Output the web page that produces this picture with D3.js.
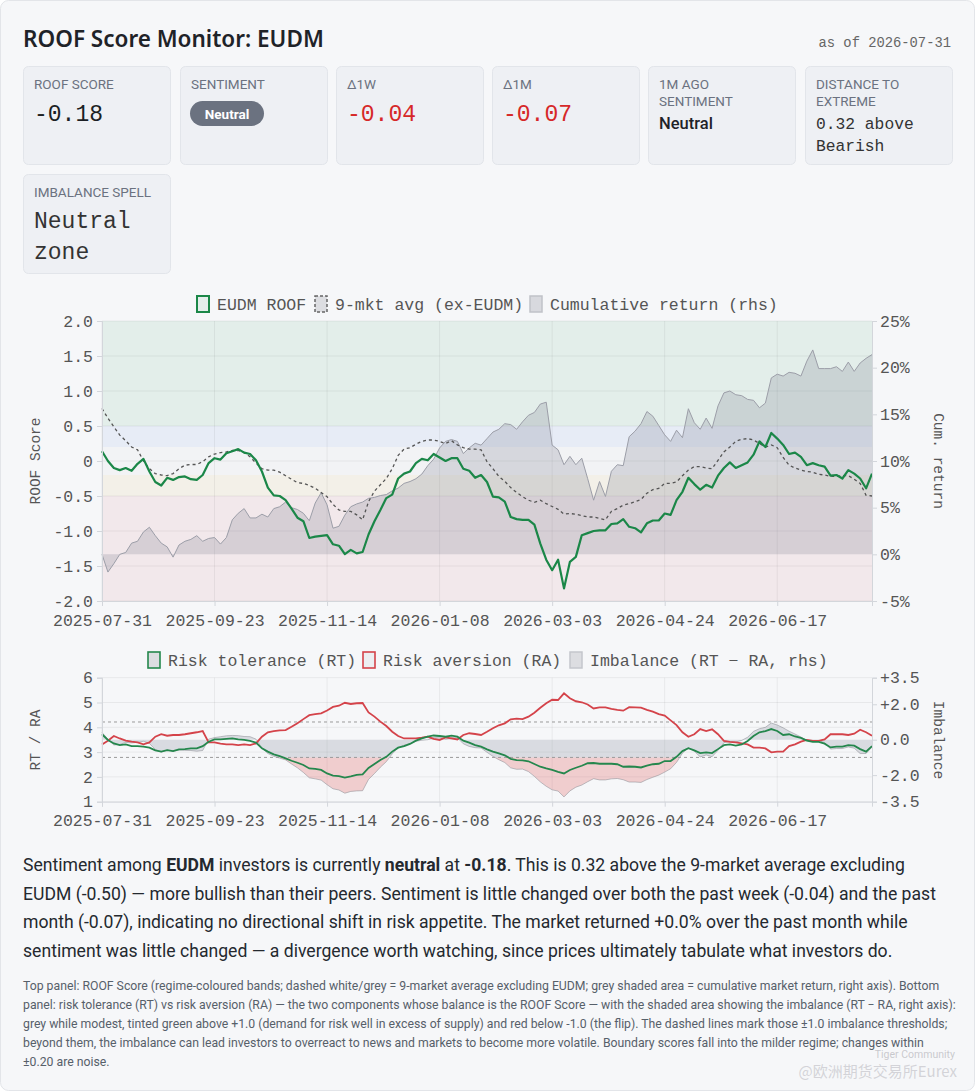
<!DOCTYPE html>
<html>
<head>
<meta charset="utf-8">
<script src="https://cdn.jsdelivr.net/npm/d3@7"></script>
<style>
  body { margin: 0; background: #ffffff; }
</style>
</head>
<body>
<div id="page"></div>
<script>
// ---- data (every second trading day, 2025-07-31 .. 2026-07-31) ----
const firstDate = "2025-07-31";
const asOfDate = "2026-07-31";
const holidays = ["2026-01-01"];
const tickLabels = ["2025-07-31", "2025-09-23", "2025-11-14", "2026-01-08", "2026-03-03", "2026-04-24", "2026-06-17"];

const roof = [
  0.14, 0.00, -0.10, -0.13, -0.10, -0.14, -0.04, 0.03, -0.15, -0.30,
  -0.35, -0.24, -0.27, -0.23, -0.22, -0.26, -0.27, -0.20, -0.03, 0.04,
  0.02, 0.11, 0.14, 0.17, 0.12, 0.10, 0.01, -0.15, -0.38, -0.49,
  -0.50, -0.56, -0.68, -0.81, -0.86, -1.10, -1.08, -1.07, -1.06, -1.19,
  -1.21, -1.33, -1.27, -1.32, -1.30, -1.05, -0.86, -0.70, -0.53, -0.48,
  -0.25, -0.18, -0.15, -0.03, 0.03, 0.01, 0.10, 0.05, 0.00, 0.04,
  0.04, -0.11, -0.14, -0.24, -0.20, -0.30, -0.51, -0.52, -0.58, -0.80,
  -0.83, -0.84, -0.84, -0.91, -1.18, -1.41, -1.56, -1.41, -1.82, -1.44,
  -1.37, -1.06, -1.03, -1.00, -0.99, -0.99, -0.90, -0.89, -0.83, -0.94,
  -0.96, -1.02, -0.89, -0.85, -0.85, -0.75, -0.77, -0.56, -0.44, -0.24,
  -0.33, -0.41, -0.34, -0.38, -0.21, -0.10, -0.02, -0.10, -0.06, -0.02,
  0.09, 0.28, 0.20, 0.40, 0.32, 0.23, 0.10, 0.12, 0.06, -0.06,
  -0.03, -0.06, -0.08, -0.21, -0.20, -0.25, -0.13, -0.18, -0.25, -0.39,
  -0.18
];

const avg9 = [
  0.75, 0.61, 0.49, 0.37, 0.29, 0.20, 0.16, 0.00, -0.11, -0.18,
  -0.20, -0.21, -0.18, -0.11, -0.06, -0.05, -0.05, -0.01, 0.06, 0.10,
  0.12, 0.13, 0.15, 0.15, 0.12, 0.06, -0.03, -0.11, -0.13, -0.13,
  -0.16, -0.21, -0.26, -0.31, -0.32, -0.35, -0.39, -0.45, -0.51, -0.62,
  -0.70, -0.72, -0.72, -0.77, -0.84, -0.58, -0.43, -0.34, -0.25, -0.11,
  0.08, 0.17, 0.19, 0.24, 0.28, 0.30, 0.30, 0.28, 0.25, 0.29,
  0.23, 0.19, 0.17, 0.17, 0.16, -0.01, -0.11, -0.22, -0.29, -0.38,
  -0.45, -0.51, -0.56, -0.59, -0.56, -0.61, -0.65, -0.69, -0.76, -0.75,
  -0.76, -0.78, -0.80, -0.80, -0.82, -0.84, -0.72, -0.68, -0.63, -0.61,
  -0.58, -0.55, -0.46, -0.41, -0.39, -0.32, -0.32, -0.30, -0.21, -0.13,
  -0.08, -0.08, -0.10, -0.11, 0.01, 0.13, 0.20, 0.28, 0.31, 0.32,
  0.30, 0.25, 0.20, 0.23, 0.19, 0.05, -0.06, -0.10, -0.13, -0.15,
  -0.16, -0.19, -0.20, -0.22, -0.22, -0.21, -0.21, -0.26, -0.32, -0.49,
  -0.50
];

// cumulative market return, %
const cumRet = [
  0.0, -1.9, -1.0, 0.0, 0.2, 1.2, 1.4, 2.4, 2.9, 2.0,
  1.2, 0.8, -0.3, 1.0, 1.4, 1.6, 2.0, 1.4, 1.7, 1.8,
  1.1, 1.8, 3.7, 4.4, 4.9, 3.9, 3.9, 4.3, 4.0, 4.9,
  5.1, 5.6, 5.0, 4.8, 4.4, 3.6, 5.5, 6.6, 5.3, 2.8,
  3.0, 4.2, 5.1, 5.4, 5.6, 6.0, 6.1, 6.3, 6.4, 6.8,
  7.1, 7.6, 7.8, 8.1, 8.6, 9.5, 10.2, 11.4, 12.1, 12.3,
  12.1, 10.8, 11.4, 11.9, 11.7, 12.4, 13.1, 13.4, 14.0, 13.9,
  13.4, 14.2, 14.9, 15.2, 16.1, 16.3, 11.7, 11.2, 9.6, 10.5,
  9.6, 10.3, 8.1, 5.8, 7.8, 6.2, 8.9, 9.6, 9.5, 12.6,
  13.2, 14.0, 15.3, 14.8, 13.8, 12.8, 12.1, 13.3, 12.5, 15.6,
  14.1, 13.4, 14.6, 13.5, 15.9, 17.3, 17.5, 17.1, 17.0, 16.6,
  16.5, 15.7, 16.2, 18.9, 19.3, 19.1, 19.5, 19.4, 19.1, 20.7,
  21.9, 19.9, 19.9, 19.9, 20.1, 19.6, 20.6, 19.6, 20.5, 21.0,
  21.4
];

// risk tolerance
const rt = [
  3.72, 3.49, 3.35, 3.28, 3.31, 3.24, 3.24, 3.22, 3.18, 3.07,
  3.02, 3.08, 3.04, 3.11, 3.12, 3.15, 3.15, 3.24, 3.42, 3.51,
  3.51, 3.53, 3.55, 3.51, 3.49, 3.45, 3.38, 3.15, 3.02, 2.91,
  2.84, 2.75, 2.65, 2.57, 2.48, 2.34, 2.32, 2.28, 2.14, 2.05,
  2.03, 1.97, 2.02, 2.08, 2.10, 2.36, 2.52, 2.68, 2.81, 3.02,
  3.18, 3.24, 3.33, 3.46, 3.55, 3.62, 3.67, 3.65, 3.62, 3.66,
  3.62, 3.46, 3.38, 3.28, 3.22, 3.11, 3.02, 2.95, 2.87, 2.73,
  2.68, 2.67, 2.63, 2.52, 2.41, 2.34, 2.28, 2.20, 2.14, 2.28,
  2.37, 2.45, 2.55, 2.56, 2.53, 2.53, 2.53, 2.51, 2.41, 2.42,
  2.41, 2.38, 2.45, 2.51, 2.53, 2.64, 2.64, 2.81, 3.04, 3.16,
  3.07, 2.96, 2.99, 2.96, 3.12, 3.28, 3.31, 3.26, 3.31, 3.45,
  3.65, 3.80, 3.85, 3.93, 3.85, 3.69, 3.72, 3.63, 3.57, 3.46,
  3.41, 3.41, 3.34, 3.19, 3.22, 3.22, 3.28, 3.26, 3.12, 3.02,
  3.24
];

// risk aversion
const ra = [
  3.31, 3.46, 3.65, 3.55, 3.46, 3.42, 3.39, 3.31, 3.39, 3.62,
  3.72, 3.66, 3.69, 3.69, 3.72, 3.76, 3.80, 3.85, 3.39, 3.39,
  3.34, 3.31, 3.31, 3.28, 3.31, 3.28, 3.35, 3.62, 3.80, 3.85,
  3.88, 3.89, 4.02, 4.16, 4.33, 4.49, 4.53, 4.56, 4.68, 4.82,
  4.87, 4.99, 4.94, 4.97, 4.98, 4.60, 4.43, 4.23, 4.05, 3.82,
  3.65, 3.55, 3.55, 3.55, 3.58, 3.62, 3.53, 3.49, 3.59, 3.55,
  3.51, 3.69, 3.76, 3.73, 3.69, 3.82, 3.96, 4.08, 4.16, 4.32,
  4.35, 4.33, 4.43, 4.59, 4.79, 4.97, 5.11, 5.10, 5.37, 5.17,
  5.05, 5.01, 4.92, 4.76, 4.80, 4.80, 4.74, 4.70, 4.67, 4.81,
  4.80, 4.79, 4.70, 4.63, 4.53, 4.47, 4.28, 4.09, 3.80, 3.62,
  3.72, 3.93, 3.85, 3.92, 3.72, 3.45, 3.41, 3.39, 3.35, 3.31,
  3.18, 3.18, 3.15, 2.99, 3.02, 3.02, 3.24, 3.31, 3.42, 3.49,
  3.45, 3.45, 3.51, 3.72, 3.72, 3.72, 3.69, 3.74, 3.90, 3.80,
  3.66
];

const roofTicks = [2, 1.5, 1, 0.5, 0, -0.5, -1, -1.5, -2];
const roofTickLabels = ["2.0", "1.5", "1.0", "0.5", "0", "-0.5", "-1.0", "-1.5", "-2.0"];
const retTicks = [25, 20, 15, 10, 5, 0, -5];
const regimeEdges = [2, 0.5, 0.2, -0.2, -0.5, -2];
const rtraTicks = [6, 5, 4, 3, 2, 1];
const imbTicks = [3.5, 2, 0, -2, -3.5];
const imbTickLabels = ["+3.5", "+2.0", "0.0", "-2.0", "-3.5"];
const imbThreshold = 1.0;

// ---- headline cards / text ----
const cardLabels = [["ROOF SCORE"], ["SENTIMENT"], ["Δ1W"], ["Δ1M"], ["1M AGO", "SENTIMENT"], ["DISTANCE TO", "EXTREME"], ["IMBALANCE SPELL"]];
const cardValues = [["-0.18"], ["Neutral"], ["-0.04"], ["-0.07"], ["Neutral"], ["0.32 above", "Bearish"], ["Neutral", "zone"]];

const summaryLines = [
  [["Sentiment among ", 0], ["EUDM", 1], [" investors is currently ", 0], ["neutral", 1], [" at ", 0], ["-0.18", 1], [". This is 0.32 above the 9-market average excluding", 0]],
  [["EUDM (-0.50) — more bullish than their peers. Sentiment is little changed over both the past week (-0.04) and the past", 0]],
  [["month (-0.07), indicating no directional shift in risk appetite. The market returned +0.0% over the past month while", 0]],
  [["sentiment was little changed — a divergence worth watching, since prices ultimately tabulate what investors do.", 0]]
];
const noteLines = [
  "Top panel: ROOF Score (regime-coloured bands; dashed white/grey = 9-market average excluding EUDM; grey shaded area = cumulative market return, right axis). Bottom",
  "panel: risk tolerance (RT) vs risk aversion (RA) — the two components whose balance is the ROOF Score — with the shaded area showing the imbalance (RT − RA, right axis):",
  "grey while modest, tinted green above +1.0 (demand for risk well in excess of supply) and red below -1.0 (the flip). The dashed lines mark those ±1.0 imbalance thresholds;",
  "beyond them, the imbalance can lead investors to overreact to news and markets to become more volatile. Boundary scores fall into the milder regime; changes within",
  "±0.20 are noise."
];

// ---- dates ----
const fmt = d3.utcFormat("%Y-%m-%d");
const parse = d3.utcParse("%Y-%m-%d");
let tradingDays = [];
for (let t = parse(firstDate); t <= parse(asOfDate); t = d3.utcDay.offset(t, 1)) {
  let wd = t.getUTCDay();
  if (wd === 0 || wd === 6 || holidays.includes(fmt(t))) continue;
  tradingDays.push(fmt(t));
}
const dates = tradingDays.filter((d, i) => i % 2 === 0);
const rows = dates.map((d, i) => ({ date: d, roof: roof[i], avg: avg9[i], ret: cumRet[i], rt: rt[i], ra: ra[i], imb: rt[i] - ra[i] }));

const SANS = "Roboto, 'Noto Sans', sans-serif";
const MONO = "'Liberation Mono', 'DejaVu Sans Mono', monospace";
const W = 975, H = 1091;

let svg = d3.select("#page").append("svg")
  .attr("width", W)
  .attr("height", H)
  .style("display", "block");

svg.append("rect")
  .attr("x", 0.5).attr("y", 0.5)
  .attr("width", W - 1).attr("height", H - 1)
  .attr("rx", 8)
  .attr("fill", "#f6f7f9")
  .attr("stroke", "#e3e5e9");

// title
svg.append("text")
  .attr("x", 23).attr("y", 47)
  .style("font-family", "'Noto Sans', Roboto, sans-serif").style("font-weight", 600).style("font-size", "22.5px")
  .attr("fill", "#1f2328")
  .text("ROOF Score Monitor: EUDM");
svg.append("text")
  .attr("x", 951).attr("y", 47)
  .attr("text-anchor", "end")
  .style("font-family", MONO).style("font-size", "13.8px")
  .attr("fill", "#666")
  .text("as of " + asOfDate);

// cards
const cardPos = [[23, 66, 98], [180, 66, 98], [336, 66, 98], [492, 66, 98], [648, 66, 98], [805, 66, 98], [23, 174, 99]];
cardPos.forEach((p, k) => {
  let g = svg.append("g").attr("transform", `translate(${p[0]}, ${p[1]})`);
  g.append("rect")
    .attr("x", 0.5).attr("y", 0.5)
    .attr("width", 147).attr("height", p[2])
    .attr("rx", 5)
    .attr("fill", "#eef0f4")
    .attr("stroke", "#e2e5ea");
  cardLabels[k].forEach((l, j) => {
    g.append("text")
      .attr("x", 11).attr("y", 23 + j * 17)
      .style("font-family", SANS).style("font-size", "13.5px")
      .attr("fill", "#6b7280")
      .text(l);
  });
});

function cardText(k, lines, opts) {
  let p = cardPos[k];
  lines.forEach((l, j) => {
    svg.append("text")
      .attr("x", p[0] + 11).attr("y", p[1] + opts.y + j * opts.lh)
      .style("font-family", opts.font).style("font-size", opts.size)
      .style("font-weight", opts.weight || 400)
      .attr("fill", opts.color)
      .text(l);
  });
}
cardText(0, cardValues[0], { y: 55, lh: 0, font: MONO, size: "23px", color: "#1b1f24" });
cardText(2, cardValues[2], { y: 55, lh: 0, font: MONO, size: "23px", color: "#d62828" });
cardText(3, cardValues[3], { y: 55, lh: 0, font: MONO, size: "23px", color: "#d62828" });
cardText(4, cardValues[4], { y: 63, lh: 0, font: SANS, size: "16.5px", weight: 500, color: "#1f2328" });
cardText(5, cardValues[5], { y: 63, lh: 21.5, font: MONO, size: "16.3px", color: "#333" });
cardText(6, cardValues[6], { y: 54, lh: 30.5, font: MONO, size: "23px", color: "#333" });

// sentiment pill
svg.append("rect")
  .attr("x", 190).attr("y", 101)
  .attr("width", 74).attr("height", 25)
  .attr("rx", 12.5)
  .attr("fill", "#6b7280");
svg.append("text")
  .attr("x", 227).attr("y", 118.5)
  .attr("text-anchor", "middle")
  .style("font-family", SANS).style("font-weight", 700).style("font-size", "13.5px")
  .attr("fill", "#fff")
  .text(cardValues[1][0]);

// ---- shared helpers ----
const x = d3.scalePoint().domain(dates).range([102, 872]);
const tickCol = "#555";

function styleAxis(sel) {
  sel.select(".domain").attr("stroke", "#d3d6db");
  sel.selectAll(".tick line").attr("stroke", "#d3d6db");
  sel.selectAll(".tick text")
    .style("font-family", MONO).style("font-size", "16.5px")
    .attr("fill", tickCol);
}

function legend(items, y) {
  items.forEach(it => {
    svg.append("rect")
      .attr("x", it.x).attr("y", y - 8)
      .attr("width", 12).attr("height", 16)
      .attr("fill", it.fill)
      .attr("stroke", it.stroke)
      .attr("stroke-width", it.sw || 1.5)
      .attr("stroke-dasharray", it.dash || null);
    svg.append("text")
      .attr("x", it.x + 20).attr("y", y + 6)
      .style("font-family", MONO).style("font-size", "16.5px")
      .attr("fill", tickCol)
      .text(it.label);
  });
}

function sideLabel(text, cx, cy, rot) {
  svg.append("text")
    .attr("transform", `translate(${cx}, ${cy}) rotate(${rot})`)
    .attr("text-anchor", "middle")
    .style("font-family", MONO).style("font-size", "14.5px")
    .attr("fill", tickCol)
    .text(text);
}

// ---- top panel ----
let yTop = d3.scaleLinear().domain([-2, 2]).range([601, 321]);
let yRet = d3.scaleLinear().domain([-5, 25]).range([601, 321]);

const bandFill = ["rgba(40,150,80,0.085)", "rgba(60,110,210,0.075)", "rgba(150,150,150,0.04)", "rgba(215,185,90,0.10)", "rgba(210,80,90,0.085)"];
let topG = svg.append("g");
d3.pairs(regimeEdges).forEach((pr, k) => {
  topG.append("rect")
    .attr("x", 102).attr("y", yTop(pr[0]))
    .attr("width", 770).attr("height", yTop(pr[1]) - yTop(pr[0]))
    .attr("fill", bandFill[k]);
});

// grid
topG.selectAll(".hg").data(roofTicks).enter().append("line")
  .attr("x1", 102).attr("x2", 872)
  .attr("y1", d => yTop(d)).attr("y2", d => yTop(d))
  .attr("stroke", "rgba(0,0,0,0.06)");
topG.selectAll(".vg").data(tickLabels).enter().append("line")
  .attr("x1", d => x(d)).attr("x2", d => x(d))
  .attr("y1", 321).attr("y2", 601)
  .attr("stroke", "rgba(0,0,0,0.06)");

// cumulative return area
topG.append("path")
  .datum(rows)
  .attr("d", d3.area().x(d => x(d.date)).y0(yRet(0)).y1(d => yRet(d.ret)))
  .attr("fill", "rgba(115,118,138,0.22)");
topG.append("path")
  .datum(rows)
  .attr("d", d3.line().x(d => x(d.date)).y(d => yRet(d.ret)))
  .attr("fill", "none")
  .attr("stroke", "#9c9ea8")
  .attr("stroke-width", 1);

// 9-market average
topG.append("path")
  .datum(rows)
  .attr("d", d3.line().x(d => x(d.date)).y(d => yTop(d.avg)))
  .attr("fill", "none")
  .attr("stroke", "#555")
  .attr("stroke-width", 1.3)
  .attr("stroke-dasharray", "3,3");

// ROOF line
topG.append("path")
  .datum(rows)
  .attr("d", d3.line().x(d => x(d.date)).y(d => yTop(d.roof)))
  .attr("fill", "none")
  .attr("stroke", "#1b8748")
  .attr("stroke-width", 2.2)
  .attr("stroke-linejoin", "round");

svg.append("g")
  .attr("transform", "translate(102, 0)")
  .call(d3.axisLeft(yTop).tickValues(roofTicks).tickFormat((d, i) => roofTickLabels[i]).tickSize(5).tickPadding(4))
  .call(styleAxis);
svg.append("g")
  .attr("transform", "translate(872, 0)")
  .call(d3.axisRight(yRet).tickValues(retTicks).tickFormat(d => d + "%").tickSize(5).tickPadding(3))
  .call(styleAxis);
svg.append("g")
  .attr("transform", "translate(0, 601)")
  .call(d3.axisBottom(x).tickValues(tickLabels).tickSize(5).tickPadding(8))
  .call(styleAxis);

sideLabel("ROOF Score", 40, 461, -90);
sideLabel("Cum. return", 934, 461, 90);

legend([
  { x: 197, label: "EUDM ROOF", fill: "rgba(27,135,72,0.08)", stroke: "#1b8748", sw: 2 },
  { x: 315, label: "9-mkt avg (ex-EUDM)", fill: "#dcdde1", stroke: "#666", dash: "3,2" },
  { x: 530, label: "Cumulative return (rhs)", fill: "#d8d9de", stroke: "#c0c2c8" }
], 304);

// ---- bottom panel ----
let yB = d3.scaleLinear().domain([1, 6]).range([801.7, 677.7]);
let yI = d3.scaleLinear().domain([-3.5, 3.5]).range([801.7, 677.7]);
let botG = svg.append("g");

botG.selectAll(".hg").data(rtraTicks).enter().append("line")
  .attr("x1", 102).attr("x2", 872)
  .attr("y1", d => yB(d)).attr("y2", d => yB(d))
  .attr("stroke", "rgba(0,0,0,0.06)");
botG.selectAll(".vg").data(tickLabels).enter().append("line")
  .attr("x1", d => x(d)).attr("x2", d => x(d))
  .attr("y1", 677.7).attr("y2", 801.7)
  .attr("stroke", "rgba(0,0,0,0.06)");

let defs = svg.append("defs");
const clips = [
  ["clipHigh", 677.7, yI(imbThreshold), "rgba(70,150,95,0.28)"],
  ["clipMid", yI(imbThreshold), yI(-imbThreshold), "rgba(150,155,168,0.30)"],
  ["clipLow", yI(-imbThreshold), 801.7, "rgba(225,85,85,0.26)"]
];
let imbArea = d3.area().x(d => x(d.date)).y0(yI(0)).y1(d => yI(d.imb));
clips.forEach(c => {
  defs.append("clipPath").attr("id", c[0])
    .append("rect")
    .attr("x", 102).attr("y", c[1])
    .attr("width", 770).attr("height", c[2] - c[1]);
  botG.append("path")
    .datum(rows)
    .attr("d", imbArea)
    .attr("clip-path", `url(#${c[0]})`)
    .attr("fill", c[3]);
});
botG.append("path")
  .datum(rows)
  .attr("d", d3.line().x(d => x(d.date)).y(d => yI(d.imb)))
  .attr("fill", "none")
  .attr("stroke", "rgba(140,142,150,0.55)")
  .attr("stroke-width", 1);

[imbThreshold, -imbThreshold].forEach(v => {
  botG.append("line")
    .attr("x1", 102).attr("x2", 872)
    .attr("y1", yI(v)).attr("y2", yI(v))
    .attr("stroke", "#9a9a9a")
    .attr("stroke-dasharray", "3,3");
});

botG.append("path")
  .datum(rows)
  .attr("d", d3.line().x(d => x(d.date)).y(d => yB(d.ra)))
  .attr("fill", "none")
  .attr("stroke", "#d4434a")
  .attr("stroke-width", 1.8);
botG.append("path")
  .datum(rows)
  .attr("d", d3.line().x(d => x(d.date)).y(d => yB(d.rt)))
  .attr("fill", "none")
  .attr("stroke", "#25874d")
  .attr("stroke-width", 1.8);

svg.append("g")
  .attr("transform", "translate(102, 0)")
  .call(d3.axisLeft(yB).tickValues(rtraTicks).tickFormat(d3.format("d")).tickSize(5).tickPadding(4))
  .call(styleAxis);
svg.append("g")
  .attr("transform", "translate(872, 0)")
  .call(d3.axisRight(yI).tickValues(imbTicks).tickFormat((d, i) => imbTickLabels[i]).tickSize(5).tickPadding(3))
  .call(styleAxis);
svg.append("g")
  .attr("transform", "translate(0, 801.7)")
  .call(d3.axisBottom(x).tickValues(tickLabels).tickSize(5).tickPadding(8))
  .call(styleAxis);

sideLabel("RT / RA", 40, 740, -90);
sideLabel("Imbalance", 934, 740, 90);

legend([
  { x: 148, label: "Risk tolerance (RT)", fill: "#dcdde1", stroke: "#25874d", sw: 1.6 },
  { x: 363, label: "Risk aversion (RA)", fill: "#eceef1", stroke: "#d4434a", sw: 1.6 },
  { x: 570, label: "Imbalance (RT − RA, rhs)", fill: "#dcdde1", stroke: "#c4c6cc" }
], 660);

// ---- commentary ----
summaryLines.forEach((segs, i) => {
  let t = svg.append("text")
    .attr("x", 23).attr("y", 871 + i * 28.7)
    .style("font-family", SANS).style("font-size", "17.6px")
    .attr("fill", "#24292f");
  segs.forEach(s => {
    t.append("tspan").style("font-weight", s[1] ? 700 : 400).text(s[0]);
  });
});

noteLines.forEach((l, i) => {
  svg.append("text")
    .attr("x", 23).attr("y", 990 + i * 19)
    .style("font-family", SANS).style("font-size", "12.25px")
    .attr("fill", "#57606a")
    .text(l);
});

// platform watermark
svg.append("text")
  .attr("x", 955).attr("y", 1058).attr("text-anchor", "end")
  .style("font-family", SANS).style("font-size", "10.5px")
  .attr("fill", "rgba(170,170,175,0.6)")
  .text("Tiger Community");
svg.append("text")
  .attr("x", 957).attr("y", 1077).attr("text-anchor", "end")
  .style("font-family", "'Noto Sans CJK SC', sans-serif").style("font-size", "15px")
  .attr("fill", "rgba(205,205,210,0.85)")
  .text("@欧洲期货交易所Eurex");
</script>
</body>
</html>
